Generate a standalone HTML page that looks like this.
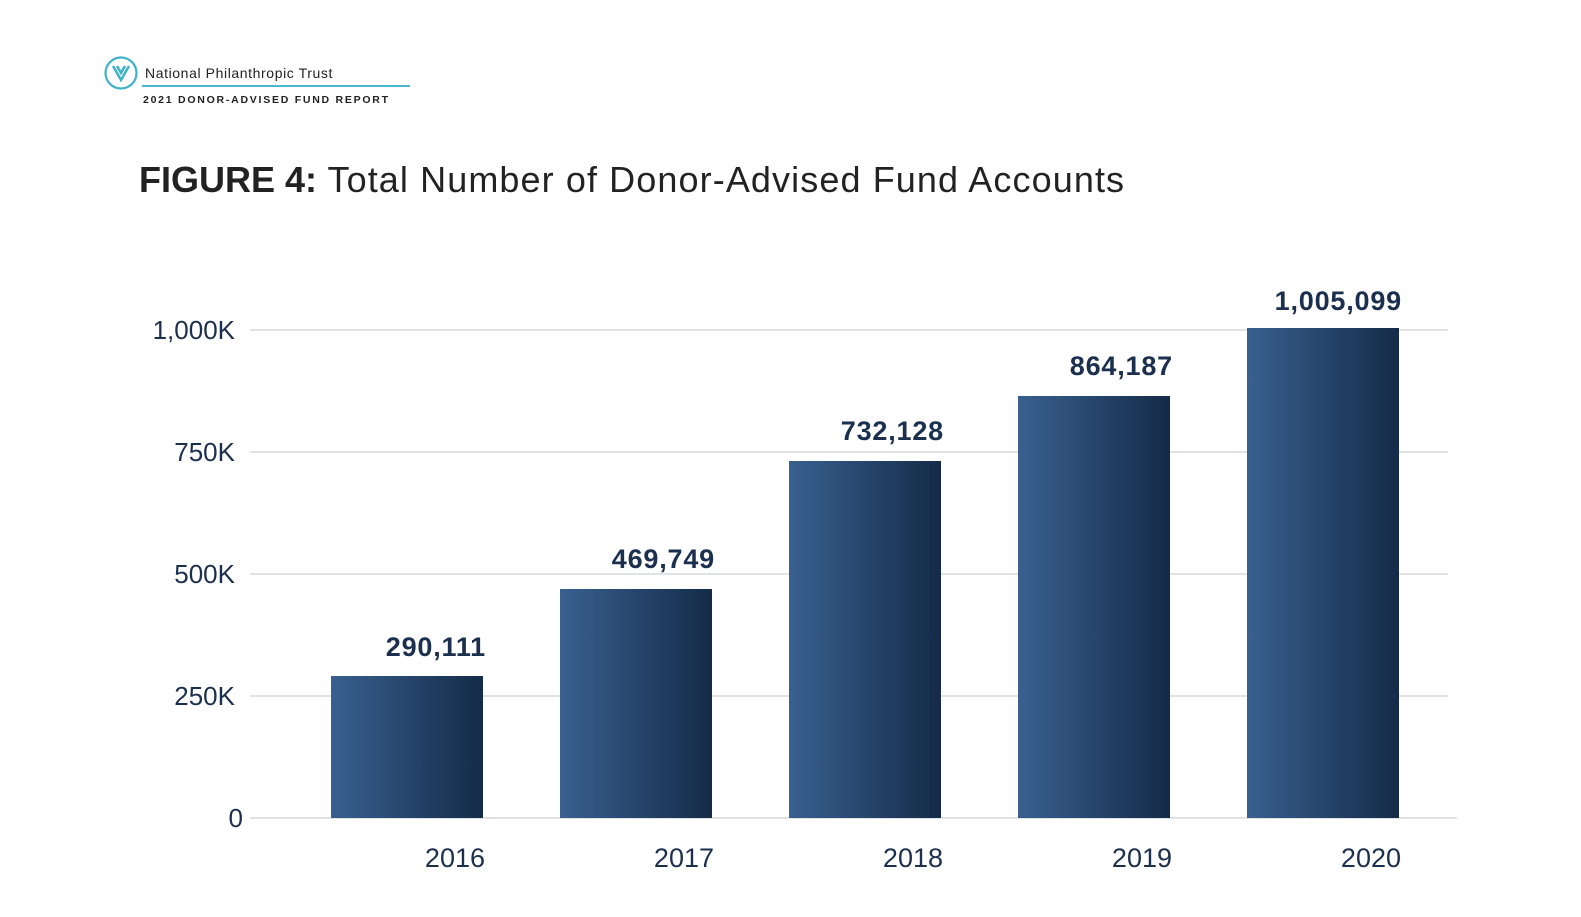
<!DOCTYPE html>
<html><head><meta charset="utf-8"><style>
html,body{margin:0;padding:0;background:#fff;}
svg{display:block;font-family:"Liberation Sans",sans-serif;}
</style></head><body>
<svg width="1581" height="917" viewBox="0 0 1581 917">
<defs>
<linearGradient id="g" x1="0" x2="1" y1="0" y2="0">
<stop offset="0" stop-color="#39608f"/><stop offset="1" stop-color="#142b48"/>
</linearGradient>
</defs>
<!-- logo -->
<circle cx="121" cy="73" r="15.5" fill="none" stroke="#3fb3c6" stroke-width="2.2"/>
<path d="M113 66 L121 80 L129 66 M117 66 L121 73 L125 66" fill="none" stroke="#3fb3c6" stroke-width="2.5"/>
<text x="145" y="78" font-size="14" letter-spacing="0.6" fill="#222">National Philanthropic Trust</text>
<line x1="142" y1="86" x2="410" y2="86" stroke="#4ab8c8" stroke-width="2"/>
<text x="143" y="103" font-size="10.5" font-weight="bold" letter-spacing="1.75" fill="#222">2021 DONOR-ADVISED FUND REPORT</text>
<!-- title -->
<text x="139" y="192" font-size="36" fill="#222"><tspan font-weight="bold">FIGURE 4:</tspan><tspan letter-spacing="1.1"> Total Number of Donor-Advised Fund Accounts</tspan></text>
<!-- grid -->
<g stroke="#d6d8dc" stroke-width="1.5">
<line x1="250" y1="330" x2="1448" y2="330"/>
<line x1="250" y1="452" x2="1448" y2="452"/>
<line x1="250" y1="574" x2="1448" y2="574"/>
<line x1="250" y1="696" x2="1448" y2="696"/>
<line x1="250" y1="818" x2="1457" y2="818"/>
</g>
<g font-size="26" fill="#1b2f4e" text-anchor="end">
<text x="235" y="339">1,000K</text>
<text x="235" y="461">750K</text>
<text x="235" y="583">500K</text>
<text x="235" y="705">250K</text>
<text x="243" y="827">0</text>
</g>
<!-- bars -->
<rect x="331" y="676" width="152" height="142" fill="url(#g)"/>
<rect x="560" y="589" width="152" height="229" fill="url(#g)"/>
<rect x="789" y="461" width="152" height="357" fill="url(#g)"/>
<rect x="1018" y="396" width="152" height="422" fill="url(#g)"/>
<rect x="1247" y="328" width="152" height="490" fill="url(#g)"/>
<g font-size="27" font-weight="bold" fill="#1b2f4e" text-anchor="end" letter-spacing="0.8">
<text x="486" y="656">290,111</text>
<text x="715" y="568">469,749</text>
<text x="944" y="440">732,128</text>
<text x="1173" y="375">864,187</text>
<text x="1402" y="310">1,005,099</text>
</g>
<g font-size="27" fill="#1b2f4e" text-anchor="end">
<text x="485" y="867">2016</text>
<text x="714" y="867">2017</text>
<text x="943" y="867">2018</text>
<text x="1172" y="867">2019</text>
<text x="1401" y="867">2020</text>
</g>
</svg>
</body></html>
